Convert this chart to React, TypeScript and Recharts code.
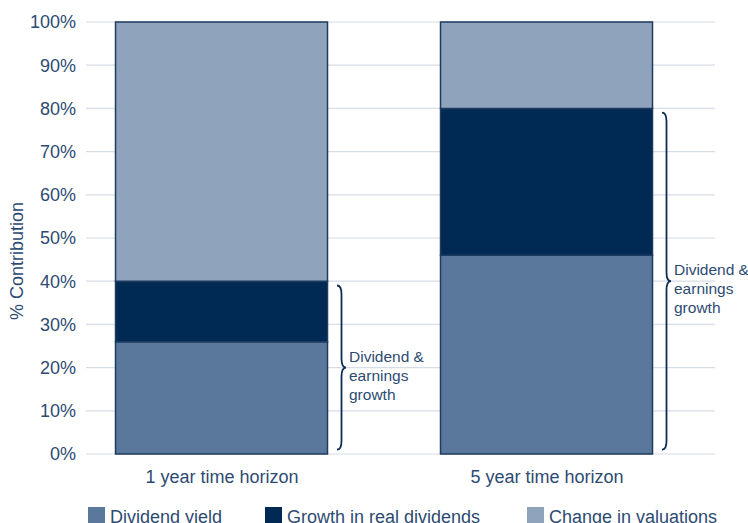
import React from 'react';
import { BarChart, Bar, XAxis, YAxis, CartesianGrid, Legend, ReferenceArea, Label } from 'recharts';

const horizons = ['1 year time horizon', '5 year time horizon'];
const dividendYield = [26, 46];
const realDividendGrowth = [14, 34];
const valuationChange = [60, 20];
const yTicks = [0, 10, 20, 30, 40, 50, 60, 70, 80, 90, 100];

const FONT = '"Liberation Sans", Arial, sans-serif';
const TEXT = '#2d4b72';
const BAR_SIZE = 212;

const series = [
  { key: 'dividend', name: 'Dividend yield', color: '#5a779c' },
  { key: 'growth', name: 'Growth in real dividends', color: '#002a53' },
  { key: 'valuation', name: 'Change in valuations', color: '#8fa3bd' },
];

const data = horizons.map((h, i) => ({
  x: i + 1,
  horizon: h,
  dividend: dividendYield[i],
  growth: realDividendGrowth[i],
  valuation: valuationChange[i],
}));

// curly brace "}" spanning from y1 to y2, drawn to the right of a bar
const Brace = (props: any) => {
  const { x, y, height } = props;
  const left = x + BAR_SIZE / 2 + 9;
  const w = 9;
  const r = 9;
  const top = y;
  const bottom = y + height;
  const mid = (top + bottom) / 2;
  const cx = left + w / 2;
  const d = `M ${left} ${top} Q ${cx} ${top} ${cx} ${top + r} L ${cx} ${mid - r} Q ${cx} ${mid} ${left + w} ${mid} Q ${cx} ${mid} ${cx} ${mid + r} L ${cx} ${bottom - r} Q ${cx} ${bottom} ${left} ${bottom}`;
  const lines = ['Dividend &', 'earnings', 'growth'];
  return (
    <g>
      <path d={d} fill="none" stroke="#0d2d55" strokeWidth={1.8} />
      {lines.map((t, i) => (
        <text key={t} x={left + w + 3} y={mid - 6 + i * 19} fontSize={15.5} fontFamily={FONT} fill={TEXT}>
          {t}
        </text>
      ))}
    </g>
  );
};

const legendWidths = [177, 262, 230];

const LegendContent = () => (
  <div style={{ display: 'flex', height: 20, paddingLeft: 88, fontFamily: FONT, fontSize: 18, color: TEXT }}>
    {series.map((s, i) => (
      <div key={s.key} style={{ display: 'flex', alignItems: 'flex-start', flexShrink: 0, width: legendWidths[i] }}>
        <span style={{ display: 'inline-block', width: 17, height: 17, background: s.color, marginRight: 5, marginTop: 1 }} />
        <span style={{ lineHeight: '22px', whiteSpace: 'nowrap' }}>{s.name}</span>
      </div>
    ))}
  </div>
);

const App = () => (
  <div style={{ position: 'absolute', left: 0, top: 0, background: '#fff' }}>
    <BarChart width={748} height={523} data={data} margin={{ top: 22, right: 33, left: 0, bottom: 19 }}>
      <CartesianGrid vertical={false} stroke="#d6dde7" strokeWidth={1.2} />
      <XAxis
        dataKey="x"
        type="number"
        domain={[0.5815, 2.5169]}
        ticks={[1, 2]}
        tickFormatter={(v: number) => horizons[v - 1]}
        axisLine={false}
        tickLine={false}
        tickSize={0}
        tickMargin={16}
        height={30}
        tick={{ fill: TEXT, fontSize: 18, fontFamily: FONT }}
      />
      <YAxis
        type="number"
        domain={[0, 100]}
        ticks={yTicks}
        tickFormatter={(v: number) => `${v}%`}
        axisLine={false}
        tickLine={false}
        tickSize={0}
        tickMargin={10}
        width={86}
        tick={{ fill: TEXT, fontSize: 18, fontFamily: FONT }}
      >
        <Label
          content={({ viewBox }: any) => {
            const cx = viewBox.x + 17;
            const cy = viewBox.y + viewBox.height / 2 + 23;
            return (
              <text x={cx} y={cy} transform={`rotate(-90 ${cx} ${cy})`} textAnchor="middle" dominantBaseline="central" fontSize={18} fontFamily={FONT} fill={TEXT}>
                % Contribution
              </text>
            );
          }}
        />
      </YAxis>
      <Legend verticalAlign="bottom" content={LegendContent} wrapperStyle={{ top: 506, bottom: 'auto', left: 0, width: 748 }} />
      {series.map((s) => (
        <Bar
          key={s.key}
          dataKey={s.key}
          name={s.name}
          stackId="a"
          fill={s.color}
          stroke="#1d3a60"
          strokeWidth={1.5}
          barSize={BAR_SIZE}
          isAnimationActive={false}
        />
      ))}
      {data.map((d) => (
        <ReferenceArea
          key={d.x}
          x1={d.x}
          x2={d.x + 0.3}
          y1={1}
          y2={d.dividend + d.growth - 1}
          shape={<Brace />}
          ifOverflow="visible"
        />
      ))}
    </BarChart>
  </div>
);

export default App;
